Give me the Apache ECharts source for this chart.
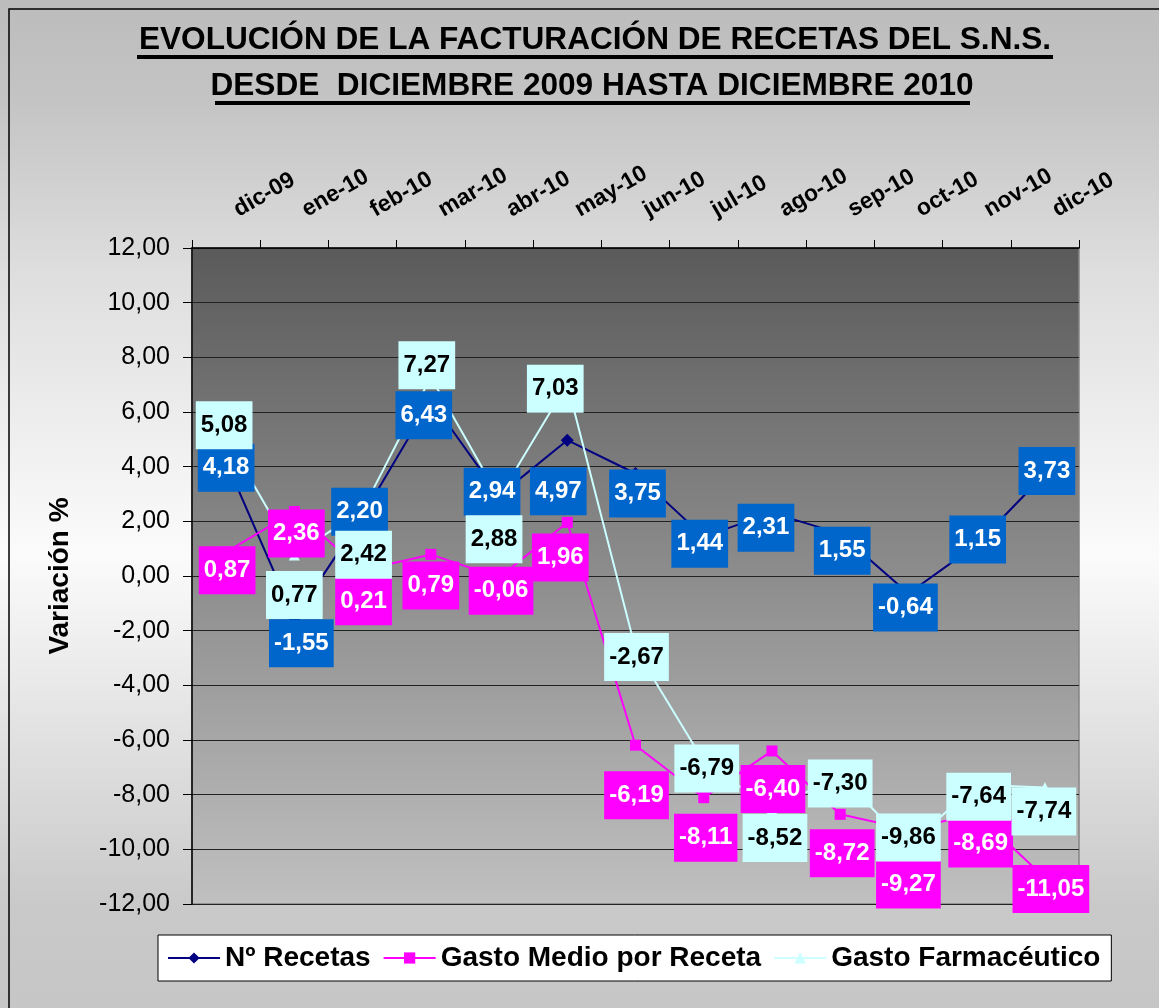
<!DOCTYPE html>
<html>
<head>
<meta charset="utf-8">
<title>Evolución de la facturación de recetas del S.N.S.</title>
<script src="https://cdn.jsdelivr.net/npm/echarts@6/dist/echarts.min.js"></script>
<style>
    html, body { margin: 0; padding: 0; background: #fff; }
    #container { width: 1159px; height: 1008px; }
</style>
</head>
<body>
<div id="container"></div>
<script>
// months on the (top) category axis
var categories = ["dic-09", "ene-10", "feb-10", "mar-10", "abr-10", "may-10", "jun-10",
    "jul-10", "ago-10", "sep-10", "oct-10", "nov-10", "dic-10"];

// variación % for each serie
var numRecetas = [4.18, -1.55, 2.20, 6.43, 2.94, 4.97, 3.75, 1.44, 2.31, 1.55, -0.64, 1.15, 3.73];
var gastoMedio = [0.87, 2.36, 0.21, 0.79, -0.06, 1.96, -6.19, -8.11, -6.40, -8.72, -9.27, -8.69, -11.05];
var gastoFarma = [5.08, 0.77, 2.42, 7.27, 2.88, 7.03, -2.67, -6.79, -8.52, -7.30, -9.86, -7.64, -7.74];

var serieNames = ["Nº Recetas", "Gasto Medio por Receta", "Gasto Farmacéutico"];

// the label boxes were dragged around by hand in the original sheet
var recetasOffsets = [[0, 6], [7, 25], [-3, -4], [-7, 15], [-7, -4], [-9, 51], [2, 20],
    [-4, 7], [-6, 15], [2, 17], [-3, 14], [1, -5], [2, -3]];
var medioOffsets = [[1, 18], [2, 22], [1, 31], [0, 31], [2, 13], [-7, 35], [1, 50],
    [2, 40], [1, 38], [2, 39], [0, 55], [4, 30], [6, 11]];
var farmaOffsets = [[-2, -12], [0, 40], [1, 45], [-4, -12], [-5, 42], [-12, 5], [1, 8],
    [3, 7], [3, 29], [0, 8], [0, -8], [2, 12], [-1, 24]];

var FONT = '"Liberation Sans", Arial, sans-serif';

function fmt(v) {
    return Number(v).toFixed(2).replace(".", ",");
}

function withOffsets(values, offsets) {
    return values.map(function (v, i) {
        return { value: v, label: { offset: offsets[i] } };
    });
}

function lineSerie(name, values, offsets, lineColor, symbol, size, boxColor, textColor) {
    return {
        name: name,
        type: "line",
        data: withOffsets(values, offsets),
        symbol: symbol,
        symbolSize: size,
        itemStyle: { color: lineColor },
        lineStyle: { color: lineColor, width: 2 },
        label: {
            show: true,
            position: "inside",
            formatter: function (p) { return fmt(p.value); },
            backgroundColor: boxColor,
            color: textColor,
            fontFamily: FONT,
            fontWeight: "bold",
            fontSize: 24,
            lineHeight: 26,
            padding: [11, 5, 11, 5]
        },
        emphasis: { disabled: true }
    };
}

var chart = echarts.init(document.getElementById("container"), null, { renderer: "canvas" });

var option = {
    animation: false,
    backgroundColor: new echarts.graphic.LinearGradient(0, 0, 0, 1, [
        { offset: 0, color: "#bcbcbc" },
        { offset: 0.1, color: "#c4c4c4" },
        { offset: 0.27, color: "#dedede" },
        { offset: 0.55, color: "#fbfbfb" },
        { offset: 0.9, color: "#c9c9c9" },
        { offset: 1, color: "#c6c6c6" }
    ]),
    graphic: [
        {
            type: "rect", silent: true,
            shape: { x: 9, y: 9, width: 1200, height: 1100 },
            style: { fill: "none", stroke: "#000", lineWidth: 1.5 }
        },
        {
            type: "text", silent: true, x: 595, y: 40,
            style: {
                text: "EVOLUCIÓN DE LA FACTURACIÓN DE RECETAS DEL S.N.S.",
                font: "bold 31.6px " + FONT, fill: "#000",
                align: "center", verticalAlign: "middle"
            }
        },
        {
            type: "rect", silent: true,
            shape: { x: 137, y: 55, width: 916, height: 4 },
            style: { fill: "#000" }
        },
        {
            type: "text", silent: true, x: 592, y: 86,
            style: {
                text: "DESDE  DICIEMBRE 2009 HASTA DICIEMBRE 2010",
                font: "bold 31.6px " + FONT, fill: "#000",
                align: "center", verticalAlign: "middle"
            }
        },
        {
            type: "rect", silent: true,
            shape: { x: 215, y: 101, width: 755, height: 4 },
            style: { fill: "#000" }
        }
    ],
    grid: {
        left: 192, right: 80, top: 248, bottom: 104,
        show: true,
        backgroundColor: new echarts.graphic.LinearGradient(0, 0, 0, 1, [
            { offset: 0, color: "#5a5a5a" },
            { offset: 1, color: "#c0c0c0" }
        ]),
        borderColor: "#858585",
        borderWidth: 1.5
    },
    legend: {
        data: serieNames,
        left: 158, top: 935,
        orient: "horizontal",
        backgroundColor: "#fff",
        borderColor: "#000",
        borderWidth: 1,
        padding: [9, 11, 9, 9],
        itemGap: 12,
        itemWidth: 52,
        itemHeight: 14,
        textStyle: { fontFamily: FONT, fontWeight: "bold", fontSize: 28, color: "#000" }
    },
    xAxis: {
        type: "category",
        position: "top",
        data: categories,
        boundaryGap: true,
        axisLine: { onZero: false, lineStyle: { color: "#000", width: 1.5 } },
        axisTick: { show: true, length: 8, lineStyle: { color: "#000" } },
        axisLabel: {
            interval: 0, rotate: -30, margin: 31,
            padding: [0, 0, 0, 11],
            color: "#000", fontFamily: FONT, fontWeight: "bold", fontSize: 23
        },
        splitLine: { show: false }
    },
    yAxis: {
        type: "value",
        min: -12, max: 12, interval: 2,
        name: "Variación %",
        nameLocation: "middle",
        nameGap: 118,
        nameTextStyle: { fontFamily: FONT, fontWeight: "bold", fontSize: 28, color: "#000" },
        axisLine: { show: true, lineStyle: { color: "#000", width: 1.5 } },
        axisTick: { show: true, length: 9, lineStyle: { color: "#000" } },
        axisLabel: { formatter: fmt, margin: 22, color: "#000", fontFamily: FONT, fontSize: 25 },
        splitLine: { lineStyle: { color: "#222", width: 1.2 } }
    },
    series: [
        lineSerie(serieNames[0], numRecetas, recetasOffsets, "#000080", "diamond", 13, "#0066cc", "#fff"),
        lineSerie(serieNames[1], gastoMedio, medioOffsets, "#ff00ff", "rect", 11, "#ff00ff", "#fff"),
        lineSerie(serieNames[2], gastoFarma, farmaOffsets, "#ccffff", "triangle", 11, "#ccffff", "#000")
    ]
};

chart.setOption(option);
window.addEventListener("resize", chart.resize);
</script>
</body>
</html>
